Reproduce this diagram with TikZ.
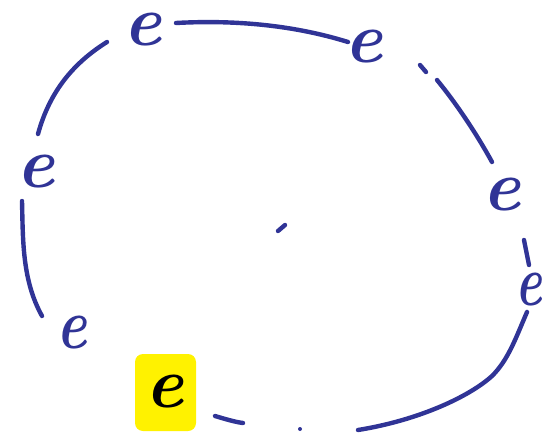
\documentclass[tikz,border=0pt]{standalone}
\usepackage{fontspec}
\definecolor{ink}{RGB}{48,52,150}
\begin{document}
\begin{tikzpicture}[x=1pt,y=-1pt,
  stroke/.style={draw=ink,line width=4.4pt,line cap=round,line join=round},
  letter/.style={text=ink,font=\fontsize{72}{72}\selectfont\bfseries\itshape,inner sep=0pt}]
\useasboundingbox (0,0) rectangle (544,434);
% highlight
\fill[yellow,rounded corners=8pt] (135,354) rectangle (196,431);
% letters
\node[letter] (e1) at (143,30) {e};
\node[letter] (e2) at (364,47) {e};
\node[letter] (e3) at (502,195) {e};
\node[letter,xscale=0.7] (e4) at (529,290) {e};
\node[letter] (e5) at (36,172) {e};
\node[letter,xscale=0.8] (e6) at (72,333) {e};
\node[letter,text=black] (e7) at (165,392) {e};
% strokes
\draw[stroke] (176,23) .. controls (230,20) and (290,24) .. (348,42);
\draw[stroke] (107,42) .. controls (75,62) and (50,90) .. (38,134);
\draw[stroke] (22,201) .. controls (23,240) and (22,280) .. (42,316);
\draw[stroke] (420,65) -- (426,72);
\draw[stroke] (437,80) .. controls (460,108) and (480,140) .. (492,162);
\draw[stroke] (524,240) -- (529,265);
\draw[stroke] (527,312) .. controls (515,340) and (508,360) .. (492,376)
  .. controls (470,396) and (420,420) .. (358,430);
\draw[stroke] (215,416) .. controls (225,419) and (235,422) .. (243,423);
\fill[ink] (300,429) circle (2pt);
\draw[stroke] (278,231) -- (285,225);
\end{tikzpicture}
\end{document}
